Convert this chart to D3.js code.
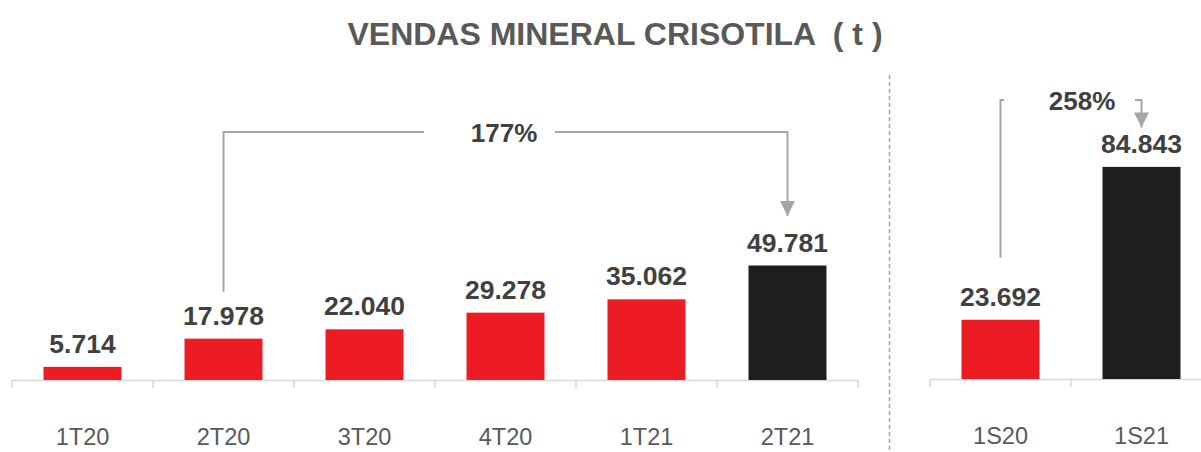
<!DOCTYPE html>
<html>
<head>
<meta charset="utf-8">
<script src="https://cdn.jsdelivr.net/npm/d3@7"></script>
<style>
  body { margin: 0; background: #fff; }
  svg { display: block; font-family: "Liberation Sans", Arial, sans-serif; }
</style>
</head>
<body>
<div id="chart"></div>
<script>
// quarterly sales (t)
const quarters = ["1T20", "2T20", "3T20", "4T20", "1T21", "2T21"];
const quarterValues = [5714, 17978, 22040, 29278, 35062, 49781];
// half-year sales (t)
const semesters = ["1S20", "1S21"];
const semesterValues = [23692, 84843];
// growth annotations
const growthLabels = ["177%", "258%"];

const width = 1201;
const height = 452;

const red = "#ED1C24";
const dark = "#1E1E1E";
const lineGray = "#A6A6A6";

const fmt = d3.formatLocale({ decimal: ",", thousands: ".", grouping: [3], currency: ["", ""] }).format(",d");

const svg = d3.select("#chart")
    .append("svg")
    .attr("width", width)
    .attr("height", height);

svg.append("text")
    .attr("x", 615)
    .attr("y", 45)
    .attr("text-anchor", "middle")
    .attr("fill", "#595959")
    .style("font-size", "32px")
    .style("font-weight", "bold")
    .style("white-space", "pre")
    .text("VENDAS MINERAL CRISOTILA  ( t )");

function drawPanel(cats, vals, xRange, yScale) {
    const x = d3.scaleBand()
        .domain(cats)
        .range(xRange)
        .paddingInner(0.447)
        .paddingOuter(0.2235);

    const base = yScale.range()[0];
    const g = svg.append("g");

    // baseline + separators at band edges
    const edges = d3.range(cats.length + 1).map(i => xRange[0] + i * x.step());
    g.append("line")
        .attr("x1", xRange[0]).attr("x2", Math.min(xRange[1], width))
        .attr("y1", base + 0.5).attr("y2", base + 0.5)
        .attr("stroke", "#D9D9D9").attr("stroke-width", 1.5);
    g.selectAll(".sep")
        .data(edges)
        .join("line")
        .attr("x1", d => d).attr("x2", d => d)
        .attr("y1", base).attr("y2", base + 8)
        .attr("stroke", "#D9D9D9").attr("stroke-width", 1.5);

    g.selectAll("rect")
        .data(vals)
        .join("rect")
        .attr("x", (d, i) => x(cats[i]))
        .attr("y", d => yScale(d))
        .attr("width", x.bandwidth())
        .attr("height", d => base - yScale(d))
        .attr("fill", (d, i) => i === vals.length - 1 ? dark : red);

    g.selectAll(".val")
        .data(vals)
        .join("text")
        .attr("class", "val")
        .attr("x", (d, i) => x(cats[i]) + x.bandwidth() / 2)
        .attr("y", d => yScale(d) - 14)
        .attr("text-anchor", "middle")
        .attr("fill", "#404040")
        .style("font-size", "26.5px")
        .style("font-weight", "bold")
        .text(d => fmt(d));

    const axis = g.append("g")
        .attr("transform", `translate(0,${base})`)
        .call(d3.axisBottom(x).tickSize(0).tickPadding(65));
    axis.select(".domain").remove();
    axis.selectAll("text")
        .attr("dy", 0)
        .attr("fill", "#595959")
        .style("font-size", "23.5px")
        .style("font-family", "'Liberation Sans', Arial, sans-serif");

    return x;
}

const yA = d3.scaleLinear().domain([0, 50000]).range([380, 265]);
const yB = d3.scaleLinear().domain([0, 85000]).range([379, 166.5]);

const xA = drawPanel(quarters, quarterValues, [12, 858], yA);
const xB = drawPanel(semesters, semesterValues, [930, 1212], yB);

// dashed divider
svg.append("line")
    .attr("x1", 889.5).attr("x2", 889.5)
    .attr("y1", 75).attr("y2", height)
    .attr("stroke", lineGray)
    .attr("stroke-width", 1.5)
    .attr("stroke-dasharray", "4,3");

svg.append("defs").append("marker")
    .attr("id", "arrow")
    .attr("viewBox", "0 0 10 10")
    .attr("refX", 10).attr("refY", 5)
    .attr("markerUnits", "userSpaceOnUse")
    .attr("markerWidth", 15).attr("markerHeight", 16)
    .attr("orient", "auto")
    .append("path")
    .attr("d", "M0,0L10,5L0,10Z")
    .attr("fill", lineGray);

// growth brackets
const brackets = [
    { x: xA, y: yA, from: quarters[1], to: quarters[5], vFrom: quarterValues[1], vTo: quarterValues[5],
      top: 132, text: growthLabels[0], textX: 504, gap: [424, 555], low: 47, tip: 49.5 },
    { x: xB, y: yB, from: semesters[0], to: semesters[1], vFrom: semesterValues[0], vTo: semesterValues[1],
      top: 100, text: growthLabels[1], textX: 1082, gap: [1004, 1135], low: 62, tip: 39.5 }
];

brackets.forEach(b => {
    const x0 = b.x(b.from) + b.x.bandwidth() / 2;
    const x1 = b.x(b.to) + b.x.bandwidth() / 2;
    const yLow = b.y(b.vFrom) - b.low;
    const yTip = b.y(b.vTo) - b.tip;

    svg.append("path")
        .attr("d", `M${x0},${yLow}V${b.top}H${b.gap[0]}`)
        .attr("fill", "none")
        .attr("stroke", lineGray)
        .attr("stroke-width", 2);

    svg.append("path")
        .attr("d", `M${b.gap[1]},${b.top}H${x1}V${yTip}`)
        .attr("fill", "none")
        .attr("stroke", lineGray)
        .attr("stroke-width", 2)
        .attr("marker-end", "url(#arrow)");

    svg.append("text")
        .attr("x", b.textX)
        .attr("y", b.top + 10)
        .attr("text-anchor", "middle")
        .attr("fill", "#404040")
        .style("font-size", "26px")
        .style("font-weight", "bold")
        .text(b.text);
});
</script>
</body>
</html>
